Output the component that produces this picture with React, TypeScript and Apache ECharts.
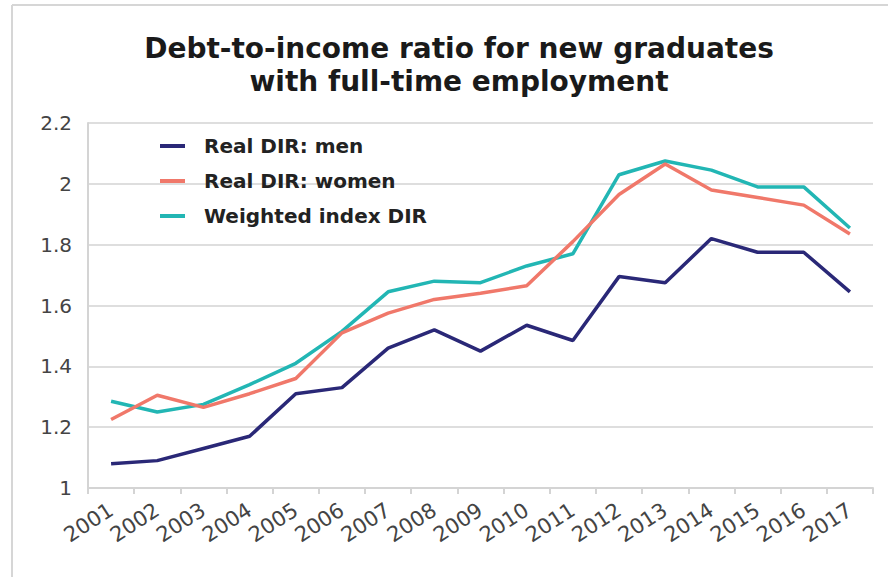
import React, { useEffect, useRef } from "react";
import * as echarts from "echarts";

const years = ["2001","2002","2003","2004","2005","2006","2007","2008","2009","2010","2011","2012","2013","2014","2015","2016","2017"];
const men = [1.08, 1.09, 1.13, 1.17, 1.31, 1.33, 1.46, 1.52, 1.45, 1.535, 1.485, 1.695, 1.675, 1.82, 1.775, 1.775, 1.645];
const women = [1.225, 1.305, 1.265, 1.31, 1.36, 1.51, 1.575, 1.62, 1.64, 1.665, 1.81, 1.965, 2.065, 1.98, 1.955, 1.93, 1.835];
const weighted = [1.285, 1.25, 1.275, 1.34, 1.41, 1.515, 1.645, 1.68, 1.675, 1.73, 1.77, 2.03, 2.075, 2.045, 1.99, 1.99, 1.855];
const seriesNames = ["Real DIR: men", "Real DIR: women", "Weighted index DIR"];
const colors = ["#2a2877", "#f0786a", "#22b6b4"];

export default function App() {
  const ref = useRef<HTMLDivElement>(null);
  useEffect(() => {
    const chart = echarts.init(ref.current!, null, { renderer: "svg" });
    const font = "'DejaVu Sans', 'Noto Sans', sans-serif";
    chart.setOption({
      animation: false,
      backgroundColor: "#fff",
      title: {
        text: "Debt-to-income ratio for new graduates\nwith full-time employment",
        left: 454,
        top: 27,
        textAlign: "center",
        textStyle: { fontFamily: font, fontWeight: "bold", fontSize: 28, lineHeight: 33, color: "#1a1a1a" },
      },
      graphic: [
        { type: "line", shape: { x1: 12, y1: 5, x2: 888, y2: 5 }, style: { stroke: "#d6d6d6", lineWidth: 2 } },
        { type: "line", shape: { x1: 12, y1: 5, x2: 12, y2: 577 }, style: { stroke: "#d6d6d6", lineWidth: 2 } },
        { type: "text", x: 12, y: 4, style: { text: "FIGURE 1", fontFamily: font, fontWeight: "bold", fontSize: 26, fill: "#a8a8a8", textVerticalAlign: "bottom" } },
      ],
      legend: {
        orient: "vertical",
        left: 155,
        top: 131,
        itemWidth: 25,
        itemHeight: 4,
        itemGap: 15,
        icon: "rect",
        data: seriesNames,
        textStyle: { fontFamily: font, fontWeight: "bold", fontSize: 20, color: "#222", padding: [0, 0, 0, 14] },
      },
      grid: { left: 88, right: 15, top: 123, bottom: 89 },
      xAxis: {
        type: "category",
        data: years,
        boundaryGap: true,
        axisLine: { lineStyle: { color: "#d4d4d4", width: 2 } },
        axisTick: { show: true, length: 6, lineStyle: { color: "#d4d4d4", width: 2 } },
        axisLabel: { rotate: 33, interval: 0, fontFamily: font, fontSize: 21, color: "#444", margin: 20 },
      },
      yAxis: {
        type: "value",
        min: 1,
        max: 2.2,
        interval: 0.2,
        axisLine: { show: true, lineStyle: { color: "#d4d4d4", width: 2 } },
        axisTick: { show: false },
        splitLine: { lineStyle: { color: "#dedede", width: 2 } },
        axisLabel: { fontFamily: font, fontSize: 20, color: "#444", margin: 16, formatter: (v: number) => String(Math.round(v * 10) / 10) },
      },
      series: [men, women, weighted].map((d, i) => ({
        name: seriesNames[i],
        type: "line",
        data: d,
        symbol: "none",
        lineStyle: { color: colors[i], width: 3.5 },
        itemStyle: { color: colors[i] },
        z: 3 - i,
      })),
    });
    return () => chart.dispose();
  }, []);
  return <div ref={ref} style={{ position: "absolute", left: 0, top: 0, width: 888, height: 577 }} />;
}
